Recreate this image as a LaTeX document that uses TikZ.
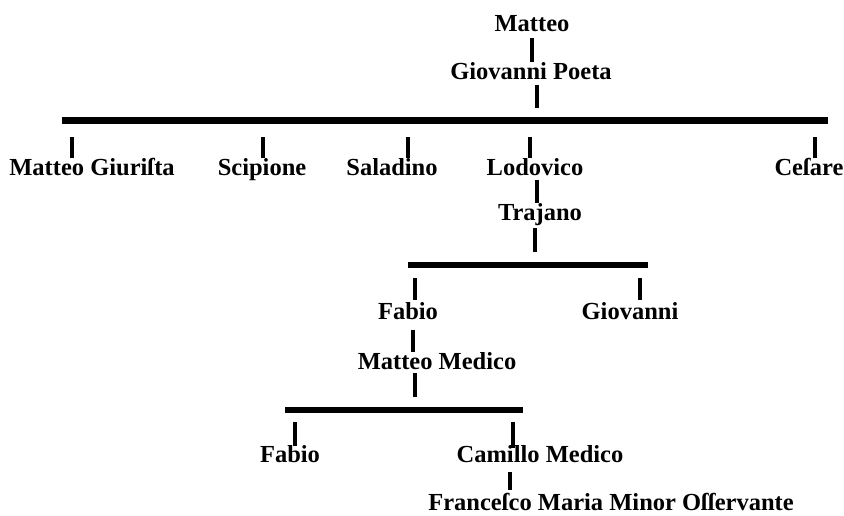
\documentclass[tikz,border=0pt]{standalone}
\usepackage{fontspec}
\setmainfont{Liberation Serif}
\usepackage{tikz}

\tikzset{
  person/.style = {anchor = base, inner sep = 0pt, font = \fontsize{24.5}{28}\selectfont\bfseries},
  stem/.style = {line width = 4pt},
  mainrail/.style = {line width = 7pt},
  subrail/.style = {line width = 5.5pt},
}

\begin{document}
\begin{tikzpicture}[x = 1pt, y = 1pt]
	\useasboundingbox (0,0) rectangle (844,516);
	% Matteo and Giovanni Poeta
	\node[person] (matteo) at (532,484) {Matteo};
	\node[person] (gpoeta) at (531,436) {Giovanni Poeta};
	\draw[stem] ([yshift = -6pt]matteo.base) -- ++(0,-24);
	\draw[stem] ([xshift = 6pt, yshift = -5pt]gpoeta.base) -- ++(0,-23);
	\coordinate (r1w) at (62,395);
	\coordinate (r1e) at (828,395);
	\draw[mainrail] (r1w) -- (r1e);
	% sons of Giovanni Poeta
	\node[person] (mgiur) at (92,340) {Matteo Giuriſta};
	\node[person] (scip) at (262,340) {Scipione};
	\node[person] (salad) at (392,340) {Saladino};
	\node[person] (lodov) at (535,340) {Lodovico};
	\node[person] (cesare) at (809,340) {Ceſare};
	\draw[stem] ([xshift = -20pt, yshift = 1pt]mgiur.north) -- ++(0,21);
	\draw[stem] ([xshift = 1pt, yshift = 1pt]scip.north) -- ++(0,21);
	\draw[stem] ([xshift = 16pt, yshift = 1pt]salad.north) -- ++(0,21);
	\draw[stem] ([xshift = -5pt, yshift = 1pt]lodov.north) -- ++(0,21);
	\draw[stem] ([xshift = 6pt, yshift = 1pt]cesare.north) -- ++(0,21);
	% Lodovico, Trajano
	\node[person] (trajano) at (540,295) {Trajano};
	\draw[stem] ([xshift = 2pt, yshift = -4pt]lodov.base) -- ++(0,-23);
	\draw[stem] ([xshift = -5pt, yshift = -7pt]trajano.base) -- ++(0,-24);
	\coordinate (r2w) at (408,251);
	\coordinate (r2e) at (648,251);
	\draw[subrail] (r2w) -- (r2e);
	\node[person] (fabio) at (408,196) {Fabio};
	\node[person] (giov) at (630,196) {Giovanni};
	\draw[stem] ([xshift = 7pt, yshift = 3pt]fabio.north) -- ++(0,22);
	\draw[stem] ([xshift = 10pt, yshift = 3pt]giov.north) -- ++(0,22);
	% Fabio, Matteo Medico
	\node[person] (mmed) at (437,146) {Matteo Medico};
	\draw[stem] ([xshift = 5pt, yshift = -10pt]fabio.base) -- ++(0,-22);
	\draw[stem] ([xshift = -22pt, yshift = -3pt]mmed.base) -- ++(0,-24);
	\coordinate (r3w) at (285,106);
	\coordinate (r3e) at (523,106);
	\draw[subrail] (r3w) -- (r3e);
	\node[person] (fabiob) at (290,53) {Fabio};
	\node[person] (camillo) at (540,53) {Camillo Medico};
	\draw[stem] ([xshift = 5pt]fabiob.north) -- ++(0,24);
	\draw[stem] ([xshift = -27pt, yshift = -2pt]camillo.north) -- ++(0,26);
	% last
	\node[person] (franc) at (611,5) {Franceſco Maria Minor Oſſervante};
	\draw[stem] ([xshift = -30pt, yshift = -9pt]camillo.base) -- ++(0,-18);
\end{tikzpicture}
\end{document}
